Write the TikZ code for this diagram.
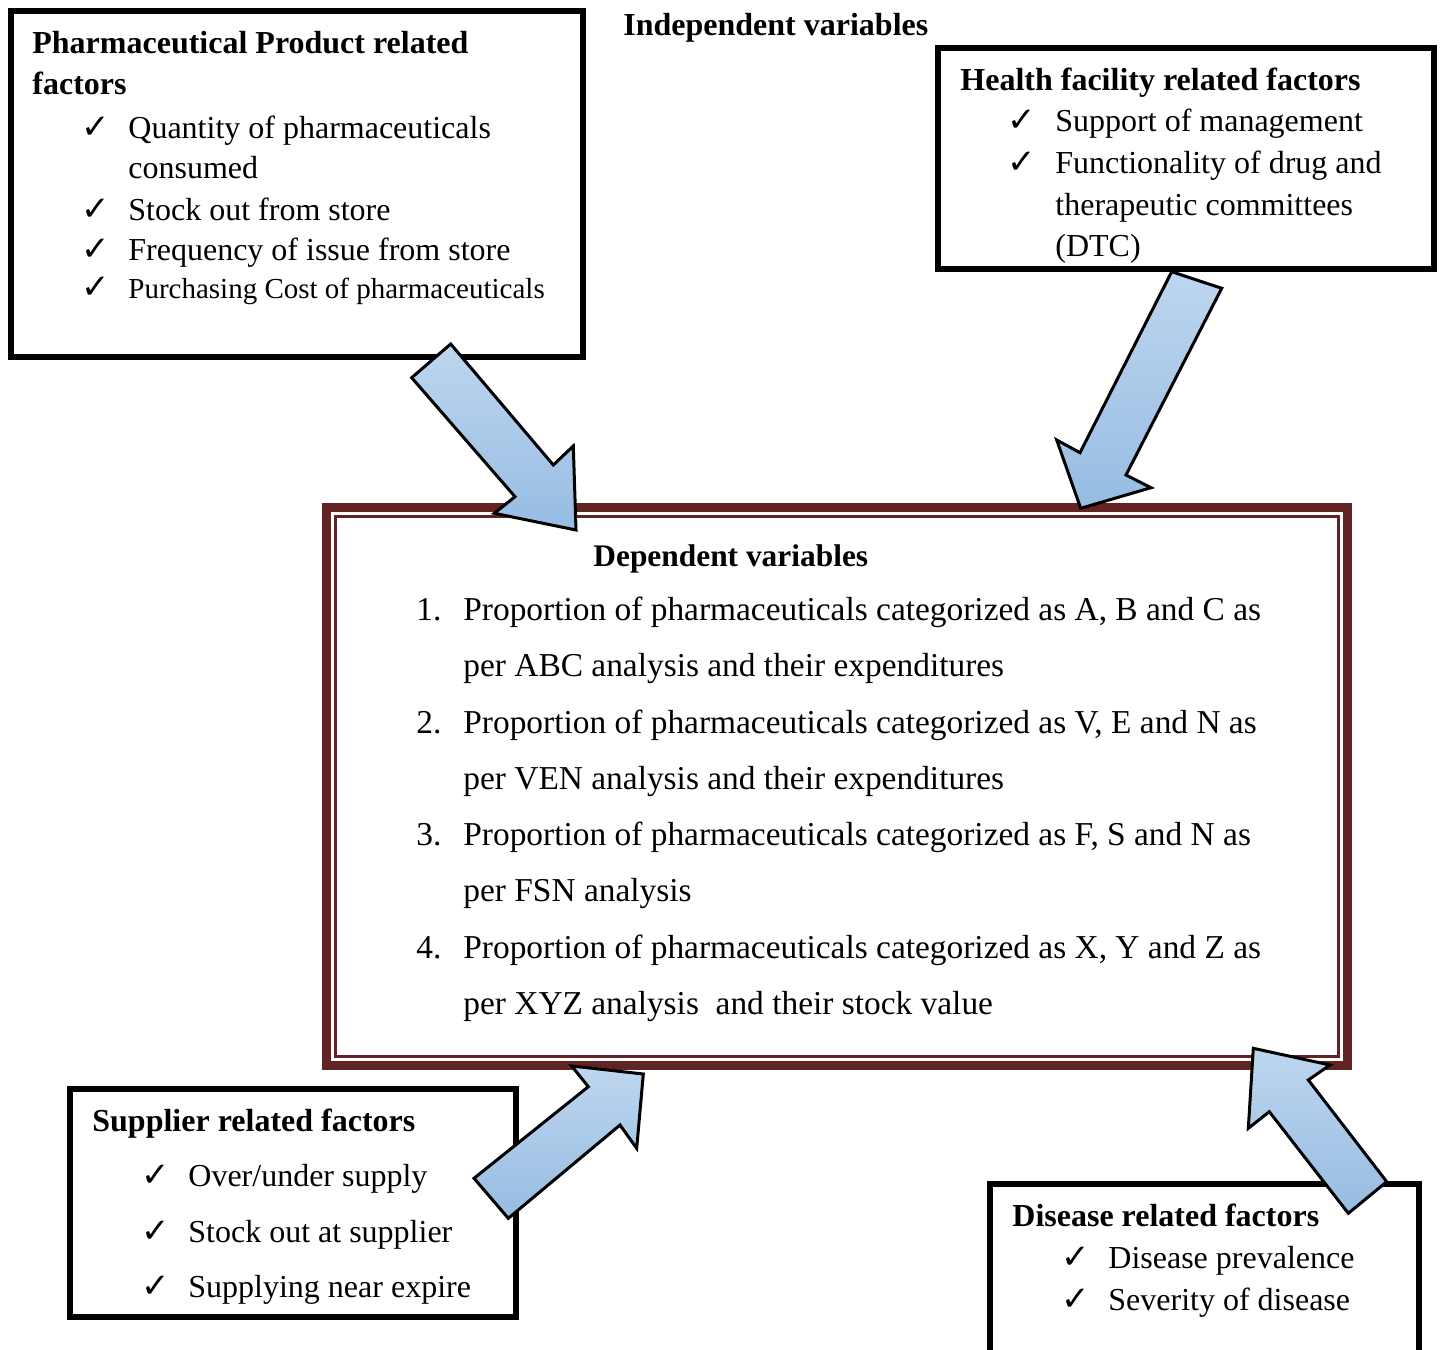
\documentclass[tikz,border=0pt]{standalone}
\usepackage{fontspec}
\setmainfont{Liberation Serif}
\newfontfamily\chkfont{DejaVu Sans}
\definecolor{depred}{HTML}{622423}
\definecolor{arrtop}{RGB}{190,214,239}
\definecolor{arrbot}{RGB}{150,188,226}
\tikzset{
  txt/.style={anchor=base west, inner sep=0pt, font=\fontsize{16pt}{19pt}\selectfont},
  txtsmall/.style={anchor=base west, inner sep=0pt, font=\fontsize{14.5pt}{17pt}\selectfont},
  hdr/.style={anchor=base west, inner sep=0pt, font=\fontsize{16pt}{19pt}\selectfont\bfseries},
  chk/.style={anchor=base west, inner sep=0pt, font=\fontsize{17pt}{19pt}\selectfont\chkfont},
  dep/.style={anchor=base west, inner sep=0pt, font=\fontsize{16.7pt}{20pt}\selectfont},
  dephdr/.style={anchor=base west, inner sep=0pt, font=\fontsize{15.7pt}{19pt}\selectfont\bfseries},
  frame/.style={draw=black, line width=3pt, anchor=north west, inner sep=0pt, outer sep=0pt},
  depframe/.style={draw=depred, anchor=north west, inner sep=0pt, outer sep=0pt},
  blockarrow/.style={draw=black, line width=1.5pt, line join=miter, top color=arrtop, bottom color=arrbot},
}
\begin{document}
\begin{tikzpicture}[x=0.5pt, y=-0.5pt]
\useasboundingbox (0,0) rectangle (1440,1349);
\clip (0,0) rectangle (1440,1349);
\fill[white] (0,0) rectangle (1440,1349);

% frames
\node[frame, minimum width=286pt, minimum height=173pt] (prod) at (11,11) {};
\node[frame, line width=2.7pt, minimum width=248pt, minimum height=110.5pt] (hf) at (938,48) {};
\node[frame, minimum width=223pt, minimum height=114pt] (sup) at (70,1089) {};
\node[frame, minimum width=214.5pt, minimum height=100pt] (dis) at (990,1184) {};
\node[depframe, line width=4.5pt, minimum width=510.5pt, minimum height=279pt] (depout) at (326.5,507.5) {};
\node[depframe, line width=1.5pt, minimum width=501.5pt, minimum height=270pt] (depin) at (335.5,516.5) {};

% title
\node[hdr] (indep) at (623,35) {Independent variables};

% product box
\node[hdr] (p0) at (32,53) {Pharmaceutical Product related};
\node[hdr] (p0b) at (32,94) {factors};
\node[chk] (pc1) at (81,138) {✓};
\node[txt] (p1) at (128,138) {Quantity of pharmaceuticals};
\node[txt] (p1b) at (128,178) {consumed};
\node[chk] (pc2) at (81,220) {✓};
\node[txt] (p2) at (128,220) {Stock out from store};
\node[chk] (pc3) at (81,260) {✓};
\node[txt] (p3) at (128,260) {Frequency of issue from store};
\node[chk] (pc4) at (81,298) {✓};
\node[txtsmall] (p4) at (128,298) {Purchasing Cost of pharmaceuticals};

% health facility box
\node[hdr] (h0) at (960,90) {Health facility related factors};
\node[chk] (hc1) at (1007,131) {✓};
\node[txt] (h1) at (1055,131) {Support of management};
\node[chk] (hc2) at (1007,173) {✓};
\node[txt] (h2) at (1055,173) {Functionality of drug and};
\node[txt] (h2b) at (1055,215) {therapeutic committees};
\node[txt] (h2c) at (1055,256) {(DTC)};

% supplier box
\node[hdr] (s0) at (92,1131) {Supplier related factors};
\node[chk] (sc1) at (141,1186) {✓};
\node[txt] (s1) at (188,1186) {Over/under supply};
\node[chk] (sc2) at (141,1242) {✓};
\node[txt] (s2) at (188,1242) {Stock out at supplier};
\node[chk] (sc3) at (141,1297) {✓};
\node[txt] (s3) at (188,1297) {Supplying near expire};

% disease box
\node[hdr] (d0) at (1012,1226) {Disease related factors};
\node[chk] (dc1) at (1061,1268) {✓};
\node[txt] (d1) at (1108,1268) {Disease prevalence};
\node[chk] (dc2) at (1061,1310) {✓};
\node[txt] (d2) at (1108,1310) {Severity of disease};

% dependent box
\node[dephdr] (v0) at (593,566) {Dependent variables};
\node[dep] (n1) at (416,620) {1.};
\node[dep] (v1) at (463,620) {Proportion of pharmaceuticals categorized as A, B and C as};
\node[dep] (v1b) at (463,676) {per ABC analysis and their expenditures};
\node[dep] (n2) at (416,733) {2.};
\node[dep] (v2) at (463,733) {Proportion of pharmaceuticals categorized as V, E and N as};
\node[dep] (v2b) at (463,789) {per VEN analysis and their expenditures};
\node[dep] (n3) at (416,845) {3.};
\node[dep] (v3) at (463,845) {Proportion of pharmaceuticals categorized as F, S and N as};
\node[dep] (v3b) at (463,901) {per FSN analysis};
\node[dep] (n4) at (416,958) {4.};
\node[dep] (v4) at (463,958) {Proportion of pharmaceuticals categorized as X, Y and Z as};
\node[dep] (v4b) at (463,1014) {per XYZ analysis\ \ and their stock value};

% block arrows
\path[blockarrow] (450.7,344) -- (553.3,465) -- (573.3,446) -- (576,530) -- (494.3,513.3) -- (515,496.7) -- (411.7,377.7) -- cycle;
\path[blockarrow] (1171.7,271.7) -- (1221.7,288.3) -- (1126,475) -- (1151,487.7) -- (1080.7,508.3) -- (1056.7,440) -- (1080,452.7) -- cycle;
\path[blockarrow] (643.3,1074) -- (636.7,1148.3) -- (620,1125) -- (508.3,1218.3) -- (474,1178.3) -- (588.3,1086.7) -- (571.7,1066) -- cycle;
\path[blockarrow] (1253.3,1048.3) -- (1330,1065) -- (1308.3,1080) -- (1386.7,1181.7) -- (1348.3,1213.3) -- (1269.3,1111.7) -- (1248.3,1128.3) -- cycle;
\end{tikzpicture}
\end{document}
